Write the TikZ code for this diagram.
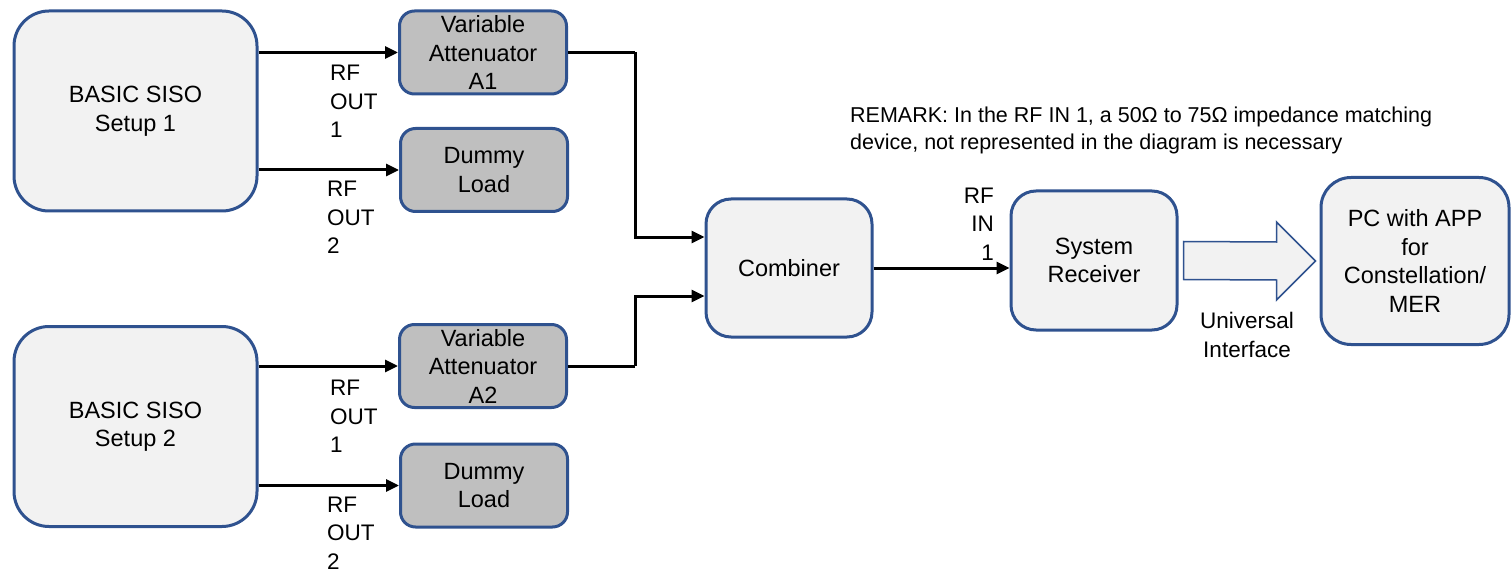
\documentclass[tikz,border=0pt]{standalone}
\usepackage{fontspec}
\setmainfont{Liberation Sans}
\usetikzlibrary{arrows.meta,calc}
\definecolor{edgeblue}{HTML}{2F528F}
\definecolor{lightfill}{HTML}{F2F2F2}
\definecolor{grayfill}{HTML}{BFBFBF}

\begin{document}
\begin{tikzpicture}[x=1pt,y=-1pt,
  blk/.style={draw=edgeblue, line width=3pt, fill=lightfill, align=center,
    inner sep=0pt, font=\fontsize{23.5}{28.5}\selectfont},
  setupbox/.style={blk, minimum width=243pt, minimum height=200pt, rounded corners=35pt},
  graybox/.style={blk, fill=grayfill, minimum width=167pt, minimum height=83pt, rounded corners=15pt},
  midbox/.style={blk, minimum width=166pt, minimum height=139pt, rounded corners=25pt},
  lbl/.style={inner sep=0pt, font=\fontsize{22.5}{28.5}\selectfont},
  sig/.style={line width=3pt, -{Triangle[length=13pt,width=12pt]}},
  wire/.style={line width=3pt}]
\useasboundingbox (0,0) rectangle (1512,572);

% sources
\node[setupbox] (s1) at (135.5,111) {BASIC SISO\\Setup 1};
\node[setupbox] (s2) at (135.5,426.5) {BASIC SISO\\Setup 2};

% attenuators and loads
\node[graybox] (a1) at (483,52.5) {Variable\\Attenuator\\A1};
\node[graybox] (d1) at (484,170) {Dummy\\Load};
\node[graybox] (a2) at (483,366) {Variable\\Attenuator\\A2};
\node[graybox] (d2) at (484,485.5) {Dummy\\Load};

% combiner, receiver, PC
\node[midbox, minimum height=138pt] (comb) at (789,268) {Combiner};
\node[midbox] (rx) at (1094,260.5) {System\\Receiver};
\node[blk, minimum width=188pt, minimum height=167pt, rounded corners=30pt] (pc) at (1415,261)
  {PC with APP\\for\\Constellation/\\MER};

% output links of the setups
\draw[sig] (s1.east |- a1.west) -- (a1.west);
\draw[sig] (s1.east |- d1.west) -- (d1.west);
\draw[sig] (s2.east |- a2.west) -- (a2.west);
\draw[sig] (s2.east |- d2.west) -- (d2.west);

\node[lbl, anchor=west, align=left] (l1) at (330,101.5) {RF\\OUT\\1};
\node[lbl, anchor=west, align=left] (l2) at (327,217.5) {RF\\OUT\\2};
\node[lbl, anchor=west, align=left] (l3) at (330,416.5) {RF\\OUT\\1};
\node[lbl, anchor=west, align=left] (l4) at (327,533) {RF\\OUT\\2};

% attenuators into the combiner
\coordinate (c1) at ($(comb.west)+(0,-31)$);
\coordinate (c2) at ($(comb.west)+(0,28)$);
\draw[wire] (a1.east) -- ($(a1.east)+(67,0)$) coordinate (k1);
\draw[sig] (k1) |- (c1);
\draw[wire] (a2.east) -- ($(a2.east)+(67,0)$) coordinate (k2);
\draw[sig] (k2) |- (c2);

% combiner into the receiver
\draw[sig] (comb.east) -- (comb.east -| rx.west);
\node[lbl, anchor=east, align=right] (rfin) at (994,224) {RF\\IN\\1};

% universal interface arrow
\coordinate (u0) at ($(rx.east)+(5,0)$);
\coordinate (u1) at ($(pc.west)+(-4,0)$);
\draw[draw=edgeblue, line width=1.5pt, fill=lightfill, line join=miter]
  ($(u0)+(0,-19)$) -- ($(u1)+(-39,-19)$) -- ($(u1)+(-39,-39)$) -- (u1)
  -- ($(u1)+(-39,39)$) -- ($(u1)+(-39,19)$) -- ($(u0)+(0,19)$) -- cycle;
\node[lbl, align=center] (ui) at (1247,335) {Universal\\Interface};

% remark
\node[inner sep=0pt, anchor=west, align=left, font=\fontsize{21.5}{27}\selectfont] (rem) at (850,130.5)
  {REMARK: In the RF IN 1, a 50Ω to 75Ω impedance matching\\device, not represented in the diagram is necessary};
\end{tikzpicture}
\end{document}
